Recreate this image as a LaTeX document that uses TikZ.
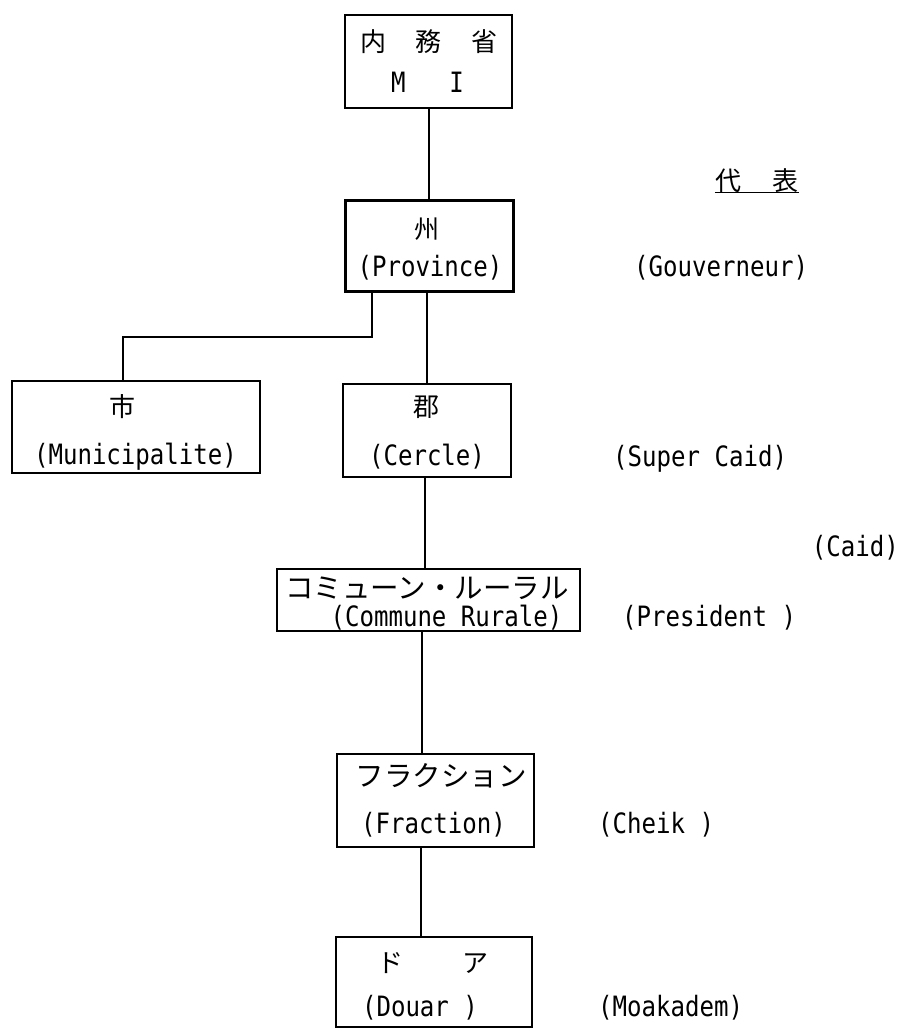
\documentclass[tikz,border=0pt]{standalone}
\usepackage{fontspec}
\newfontfamily\jp{Noto Sans CJK JP}
\newfontfamily\lat[FakeStretch=0.86]{DejaVu Sans Mono}
\begin{document}
\begin{tikzpicture}[x=1pt,y=-1pt,
  box/.style={draw, line width=1.3pt, inner sep=0pt, outer sep=0pt},
  thickbox/.style={box, line width=3pt},
  link/.style={line width=1.3pt},
  jtxt/.style={inner sep=0pt, font=\jp\fontsize{26}{30}\selectfont},
  jwide/.style={inner sep=0pt, font=\jp\fontsize{28.5}{32}\selectfont},
  ltxt/.style={inner sep=0pt, font=\lat\fontsize{28}{32}\selectfont},
  rep/.style={ltxt, anchor=west},
]
\useasboundingbox[fill=white] (0,0) rectangle (897,1028);

% organisation boxes
\node[box, minimum width=167pt, minimum height=93pt] (mi) at (428.5,61.5) {};
\node[thickbox, minimum width=168pt, minimum height=91pt] (prov) at (429,245.5) {};
\node[box, minimum width=248pt, minimum height=92pt] (muni) at (136,427) {};
\node[box, minimum width=168pt, minimum height=93pt] (cer) at (427,430.5) {};
\node[box, minimum width=303pt, minimum height=62pt] (com) at (428.5,600) {};
\node[box, minimum width=197pt, minimum height=93pt] (fra) at (435.5,800.5) {};
\node[box, minimum width=196pt, minimum height=90pt] (dou) at (434,982) {};

% box labels
\node[jtxt] (t-mi1) at (429,42) {内\hspace{30pt}務\hspace{30pt}省};
\node[ltxt] (t-mi2) at (427.5,82) {M\hspace{44pt}I};
\node[inner sep=0pt, font=\jp\fontsize{25}{29}\selectfont] (t-prov1) at (427,229) {州};
\node[ltxt] (t-prov2) at (430,268) {(Province)};
\node[jtxt] (t-muni1) at (122,407) {市};
\node[ltxt] (t-muni2) at (135.5,457) {(Municipalite)};
\node[jtxt] (t-cer1) at (426,407) {郡};
\node[ltxt] (t-cer2) at (427,457) {(Cercle)};
\node[jwide] (t-com1) at (427,588) {コミューン・ルーラル};
\node[ltxt] (t-com2) at (446.5,618) {(Commune Rurale)};
\node[jwide] (t-fra1) at (441,776) {フラクション};
\node[ltxt] (t-fra2) at (433.5,825) {(Fraction)};
\node[jtxt] (t-dou1) at (433,963) {ド\hspace{59pt}ア};
\node[ltxt] (t-dou2) at (420,1008) {(Douar )};

% representatives column
\node[jtxt] (t-rep) at (757,181) {代\hspace{32pt}表};
\draw[link] ([yshift=1pt]t-rep.south west) -- ([yshift=1pt]t-rep.south east);
\node[rep] (r-prov) at (634,268) {(Gouverneur)};
\node[rep] (r-cer) at (613,459) {(Super Caid)};
\node[ltxt, anchor=east] (r-caid) at (899,548) {(Caid)};
\node[rep] (r-com) at (622,618) {(President )};
\node[rep] (r-fra) at (598,825) {(Cheik )};
\node[rep] (r-dou) at (598,1008) {(Moakadem)};

% hierarchy links
\draw[link] (mi.south -| prov.north) -- (prov.north);
\draw[link] ([xshift=-2pt]prov.south) -- (cer.north);
\draw[link] ([xshift=-57pt]prov.south) -- ++(0,46) -| ([xshift=-13pt]muni.north);
\draw[link] ([xshift=-2pt]cer.south) -- ([xshift=-3.5pt]com.north);
\draw[link] ([xshift=-6.5pt]com.south) -- ([xshift=-13.5pt]fra.north);
\draw[link] ([xshift=-13pt]dou.north |- fra.south) -- ([xshift=-13pt]dou.north);
\end{tikzpicture}
\end{document}
